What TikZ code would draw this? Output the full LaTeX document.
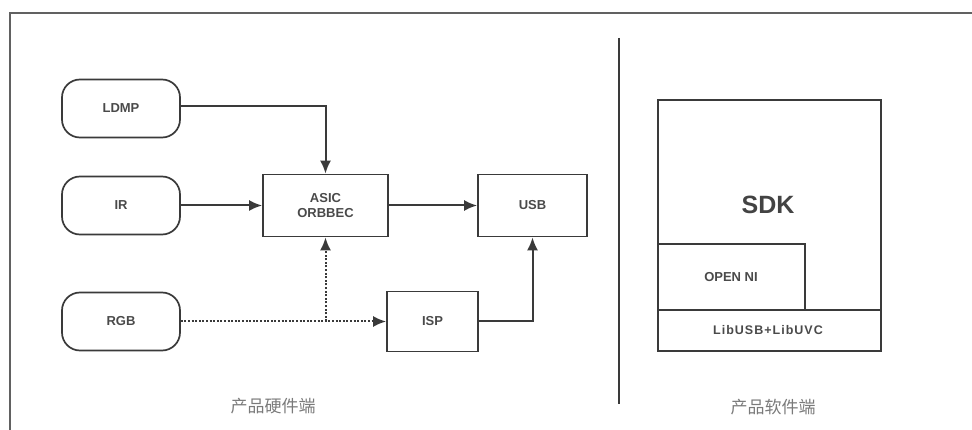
\documentclass[tikz,border=0pt]{standalone}
\usepackage{fontspec}
\setmainfont{Liberation Sans}
\newfontfamily\cjk{Noto Sans CJK SC}
\usetikzlibrary{arrows.meta}
\definecolor{ln}{HTML}{3A3A3A}
\definecolor{tx}{HTML}{4A4A4A}
\definecolor{cn}{HTML}{7A7A7A}
\tikzset{
  lw/.style={line width=1.7pt,draw=ln},
  srcbox/.style={lw,rounded corners=18pt,minimum width=118pt,minimum height=58pt,inner sep=0pt,
     font=\fontsize{13}{14}\selectfont\bfseries,text=tx},
  blk/.style={lw,minimum height=62pt,inner sep=0pt,
     font=\fontsize{13}{15.5}\selectfont\bfseries,text=tx,align=center},
  conn/.style={draw=ln,line width=2pt,-{Latex[length=13pt,width=11pt]}},
  dotconn/.style={conn,dash pattern=on 2pt off 1.6pt},
  captext/.style={font=\cjk\fontsize{17}{20}\selectfont,text=cn}}
\begin{document}
\begin{tikzpicture}[x=1pt,y=-1pt]
\useasboundingbox (0,0) rectangle (972,430);
\draw[line width=1.8pt,draw=ln!80] (10,440) -- (10,13) -- (985,13);
% hardware side
\node[srcbox] (ldmp) at (121,108.5) {LDMP};
\node[srcbox] (ir) at (121,205.5) {IR};
\node[srcbox] (rgb) at (121,321.5) {RGB};
\node[blk,minimum width=125pt] (asic) at (325.5,205.5) {ASIC\\ORBBEC};
\node[blk,minimum width=109pt] (usb) at (532.5,205.5) {USB};
\node[blk,minimum width=91pt,minimum height=60pt] (isp) at (432.5,321.5) {ISP};
\draw[conn] (ldmp.east |- 0,106) -| (asic.north);
\draw[conn] (ir.east) -- (asic.west);
\draw[conn] (asic.east) -- (usb.west);
\coordinate (br) at (asic.south |- isp.west);
\draw[dotconn] (rgb.east) -- (isp.west);
\draw[dotconn] (br) -- (asic.south);
\draw[conn] (isp.east) -| (usb.south);
\node[captext] (hw) at (273,406) {产品硬件端};
% separator
\coordinate (s1) at (619,38);
\coordinate (s2) at (619,404);
\draw[lw] (s1) -- (s2);
% software side
\draw[lw] (658,100) rectangle (881,351);
\node[font=\fontsize{25}{28}\selectfont\bfseries,text=tx!90!black] (sdk) at (768,205) {SDK};
\draw[lw] (658,310) -- (658,244) -- (805,244) -- (805,310);
\node[font=\fontsize{13}{14}\selectfont\bfseries,text=tx] (oni) at (731,277) {OPEN NI};
\draw[lw] (658,310) -- (881,310);
\node[font=\addfontfeatures{LetterSpace=8}\fontsize{12.5}{14}\selectfont\bfseries,text=tx] (lib) at (768,330.5) {LibUSB+LibUVC};
\node[captext] (sw) at (773,407) {产品软件端};
\end{tikzpicture}
\end{document}
